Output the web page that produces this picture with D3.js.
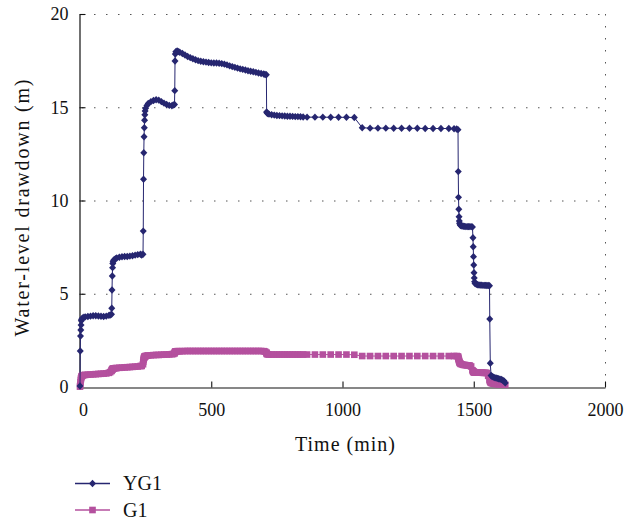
<!DOCTYPE html>
<html>
<head>
<meta charset="utf-8">
<script src="https://cdn.jsdelivr.net/npm/d3@7"></script>
<style>
  html, body { margin: 0; padding: 0; background: #fff; }
  svg { display: block; }
  svg text { font-family: "Liberation Serif", "Times New Roman", Times, serif; }
</style>
</head>
<body>
<svg id="chart" width="624" height="520"></svg>
<script>
// ---- data ----
const timeMin = [
  0,1,2,3,4,5,6,8,10,15,20,30,40,50,60,70,80,90,100,110,115,120,
  121,122,123,124,125,126,128,130,135,140,150,160,170,180,190,200,210,220,230,235,240,
  241,242,243,244,245,246,247,248,250,255,260,270,280,290,300,310,320,330,340,350,355,360,
  361,362,363,365,370,375,380,390,400,410,420,430,440,450,460,470,480,490,500,510,520,530,540,550,560,570,580,590,600,610,620,630,640,650,660,670,680,690,700,705,710,
  711,712,715,720,730,740,750,760,770,780,790,800,810,820,830,840,850,
  865,895,925,955,985,1015,1045,1075,1105,1135,1165,1195,1225,1255,1285,1315,1345,1375,1405,1425,1435,1440,
  1441,1442,1443,1444,1445,1446,1448,1450,1455,1460,1465,1470,1475,1480,1485,1490,1495,
  1497,1498,1499,1500,1501,1502,1503,1505,1510,1515,1520,1525,1530,1535,1540,1545,1550,1555,1560,
  1561,1563,1566,1570,1575,1580,1585,1590,1595,1600,1605,1610,1615,1620
];
const drawdownYG1 = [
  0.05,1.93,2.73,3.06,3.32,3.55,3.62,3.66,3.70,3.74,3.76,3.78,3.80,3.82,3.82,3.81,3.79,3.78,3.80,3.84,3.86,3.90,
  4.22,5.20,5.95,6.40,6.62,6.72,6.78,6.82,6.88,6.92,6.96,6.98,7.00,7.00,7.02,7.04,7.07,7.10,7.12,7.08,7.12,
  8.36,11.14,12.56,13.42,13.90,14.30,14.60,14.80,14.95,15.10,15.20,15.30,15.36,15.40,15.38,15.30,15.22,15.15,15.10,15.08,15.12,15.15,
  15.89,17.48,17.85,17.98,18.02,17.98,17.95,17.88,17.80,17.72,17.66,17.60,17.55,17.50,17.47,17.44,17.42,17.40,17.38,17.37,17.37,17.36,17.34,17.31,17.27,17.22,17.18,17.14,17.10,17.06,17.03,17.00,16.96,16.93,16.90,16.87,16.84,16.81,16.78,16.76,16.74,
  14.75,14.70,14.66,14.63,14.60,14.58,14.56,14.55,14.54,14.53,14.52,14.52,14.51,14.50,14.50,14.49,14.48,
  14.47,14.47,14.47,14.46,14.46,14.46,14.45,13.90,13.88,13.88,13.88,13.87,13.87,13.87,13.87,13.86,13.86,13.86,13.86,13.85,13.83,13.80,
  11.55,10.17,9.53,9.13,8.90,8.78,8.70,8.66,8.63,8.62,8.61,8.60,8.60,8.60,8.60,8.60,8.58,
  8.00,7.52,6.99,6.54,6.13,5.85,5.65,5.55,5.50,5.48,5.47,5.46,5.46,5.45,5.45,5.45,5.44,5.44,5.43,
  3.65,1.27,0.62,0.56,0.53,0.50,0.48,0.46,0.44,0.42,0.40,0.37,0.33,0.22
];
const drawdownG1 = [
  0.02,0.12,0.26,0.38,0.47,0.53,0.57,0.60,0.62,0.64,0.65,0.66,0.67,0.68,0.69,0.70,0.71,0.72,0.73,0.76,0.80,0.86,
  0.90,0.93,0.95,0.96,0.97,0.98,0.99,1.00,1.01,1.02,1.03,1.04,1.05,1.06,1.07,1.08,1.09,1.10,1.12,1.13,1.22,
  1.35,1.45,1.52,1.57,1.60,1.62,1.64,1.65,1.66,1.68,1.69,1.70,1.71,1.72,1.72,1.73,1.74,1.74,1.75,1.76,1.77,1.80,
  1.85,1.88,1.90,1.91,1.92,1.92,1.92,1.92,1.93,1.93,1.93,1.93,1.93,1.93,1.93,1.93,1.93,1.93,1.93,1.93,1.93,1.93,1.93,1.93,1.93,1.93,1.93,1.93,1.93,1.93,1.93,1.93,1.93,1.93,1.93,1.93,1.93,1.93,1.92,1.90,1.85,
  1.80,1.77,1.75,1.74,1.74,1.74,1.74,1.74,1.74,1.74,1.74,1.74,1.74,1.74,1.74,1.74,1.74,
  1.74,1.74,1.74,1.74,1.74,1.74,1.73,1.66,1.66,1.66,1.66,1.66,1.66,1.66,1.66,1.66,1.66,1.66,1.66,1.66,1.66,1.64,
  1.58,1.52,1.46,1.40,1.35,1.31,1.27,1.24,1.21,1.19,1.18,1.17,1.16,1.16,1.15,1.10,0.90,
  0.85,0.83,0.81,0.80,0.80,0.79,0.79,0.78,0.78,0.78,0.77,0.77,0.77,0.76,0.76,0.76,0.75,0.60,0.40,
  0.32,0.26,0.22,0.20,0.18,0.17,0.16,0.16,0.15,0.15,0.14,0.14,0.13,0.12
];
const seriesNames = ["YG1", "G1"];
const seriesColors = ["#262670", "#b4509e"];
const xTicks = [0, 500, 1000, 1500, 2000];
const yTicks = [0, 5, 10, 15, 20];
const xTitle = "Time (min)";
const yTitle = "Water-level drawdown (m)";

// ---- layout ----
const FONT = "'Liberation Serif', 'Times New Roman', Times, serif";
const svg = d3.select("#chart");
const plot = { left: 80, right: 605, top: 14, bottom: 387 };
const x = d3.scaleLinear().domain([0, 2000]).range([plot.left, plot.right]);
const y = d3.scaleLinear().domain([0, 20]).range([plot.bottom, plot.top]);

// gridlines (dotted)
const grid = svg.append("g").attr("stroke", "#555").attr("stroke-width", 1).attr("stroke-dasharray", "1.5 10.5");
grid.selectAll("line.h").data(yTicks.filter(d => d > 0)).join("line")
  .attr("x1", plot.left + 2).attr("x2", plot.right)
  .attr("y1", d => y(d) + 0.5).attr("y2", d => y(d) + 0.5);
grid.append("line")
  .attr("x1", plot.right + 0.5).attr("x2", plot.right + 0.5)
  .attr("y1", plot.top).attr("y2", plot.bottom);

// axes
const fmt = d3.format("d");
const xAxis = d3.axisBottom(x).tickValues(xTicks).tickFormat(fmt).tickSizeInner(-6).tickSizeOuter(0).tickPadding(16);
const yAxis = d3.axisLeft(y).tickValues(yTicks).tickFormat(fmt).tickSizeInner(-6).tickSizeOuter(0).tickPadding(11);
const gx = svg.append("g").attr("transform", `translate(0,${plot.bottom + 0.5})`).call(xAxis);
const gy = svg.append("g").attr("transform", `translate(${plot.left - 0.5},0)`).call(yAxis);
[gx, gy].forEach(g => {
  g.attr("font-family", FONT).attr("font-size", 18);
  g.selectAll("path.domain").attr("stroke", "#111").attr("stroke-width", 1.2);
  g.selectAll(".tick line").attr("stroke", "#111").attr("stroke-width", 1.1);
  g.selectAll(".tick text").attr("fill", "#111");
});
gx.selectAll(".tick").filter(d => d === 0).select("line").remove();
gx.selectAll(".tick").filter(d => d === 0).select("text").attr("dx", 3);
gy.selectAll(".tick").filter(d => d === 0).select("line").remove();

// axis titles
svg.append("text").attr("x", 345).attr("y", 450.5).attr("text-anchor", "middle")
  .attr("textLength", 100).attr("lengthAdjust", "spacing")
  .attr("font-family", FONT).attr("font-size", 20).attr("fill", "#111").text(xTitle);
svg.append("text").attr("transform", "translate(28.5,208) rotate(-90)").attr("text-anchor", "middle")
  .attr("textLength", 257).attr("lengthAdjust", "spacing")
  .attr("font-family", FONT).attr("font-size", 20).attr("fill", "#111").text(yTitle);

// series
const yg1 = timeMin.map((t, i) => ({ t, v: drawdownYG1[i] }));
const g1 = timeMin.map((t, i) => ({ t, v: drawdownG1[i] }));
const line = d3.line().x(d => x(d.t)).y(d => y(d.v));
const diamond = "M0,-3.7L3.5,0L0,3.7L-3.5,0Z";
const square = d3.symbol().type(d3.symbolSquare).size(44)();

function drawSeries(data, color, shape, lw) {
  const g = svg.append("g");
  g.append("path").datum(data).attr("d", line).attr("fill", "none")
    .attr("stroke", color).attr("stroke-width", lw);
  g.selectAll("path.m").data(data).join("path").attr("class", "m")
    .attr("d", shape).attr("fill", color)
    .attr("transform", d => `translate(${x(d.t)},${y(d.v)})`);
}
drawSeries(g1, seriesColors[1], square, 1);
drawSeries(yg1, seriesColors[0], diamond, 1);

// legend
const legend = svg.append("g");
const legendRows = [
  { name: seriesNames[0], color: seriesColors[0], shape: diamond, y: 483.5 },
  { name: seriesNames[1], color: seriesColors[1], shape: square, y: 510 }
];
legendRows.forEach(r => {
  legend.append("line").attr("x1", 75).attr("x2", 110).attr("y1", r.y).attr("y2", r.y)
    .attr("stroke", r.color).attr("stroke-width", 1.5);
  legend.append("path").attr("d", r.shape).attr("fill", r.color)
    .attr("transform", `translate(92.5,${r.y})`);
  legend.append("text").attr("x", 123).attr("y", r.y + 6.5)
    .attr("font-family", FONT).attr("font-size", 20)
    .attr("fill", "#111").text(r.name);
});
</script>
</body>
</html>
